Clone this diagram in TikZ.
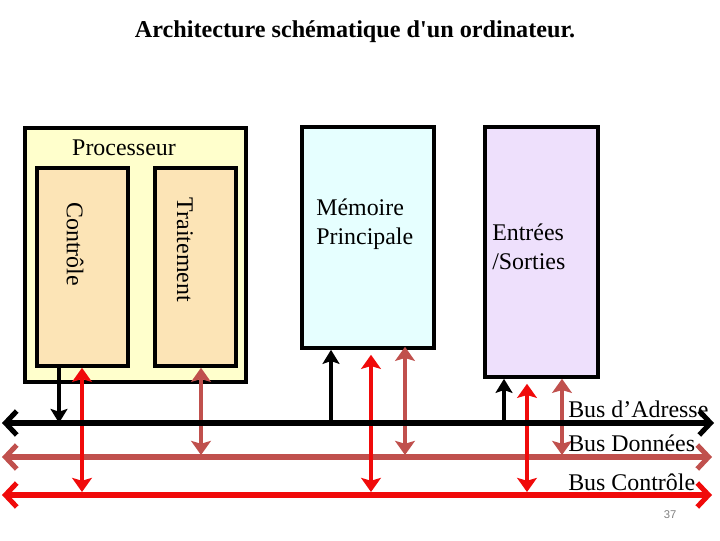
\documentclass[tikz,border=0pt]{standalone}
\usepackage{fontspec}
\setmainfont{Liberation Serif}
\newfontfamily\pagefont{Liberation Sans}
\usepackage{xcolor}
\usetikzlibrary{arrows.meta, positioning, calc}

\definecolor{procfill}{HTML}{FFFFCC}
\definecolor{unitfill}{HTML}{FCE4B6}
\definecolor{memfill}{HTML}{E6FFFF}
\definecolor{iofill}{HTML}{EEE0FC}
\definecolor{busbrown}{HTML}{C0504D}
\definecolor{busred}{HTML}{F00A0A}

\tikzset{
  box/.style={draw, line width=2.5pt, inner sep=0pt},
  lbl/.style={font=\fontsize{17}{20.5}\selectfont, align=left, inner sep=0pt},
  bus/.style={line width=3.6pt, {Straight Barb[length=8pt,width=17pt]}-{Straight Barb[length=8pt,width=17pt]}},
  link/.style={line width=2.6pt, -{Stealth[length=10pt,width=12pt,inset=2pt]}},
  dlink/.style={line width=3pt, {Stealth[length=10pt,width=14pt,inset=2pt]}-{Stealth[length=10pt,width=14pt,inset=2pt]}}
}

\begin{document}
\begin{tikzpicture}[x=0.025cm, y=-0.025cm]
      \useasboundingbox (0,0) rectangle (720,540);

      \node[font=\bfseries\fontsize{17.2}{20}\selectfont] (title) at (355,32) {Architecture schématique d\textquotesingle un ordinateur.};

      % units
      \node[box, fill=procfill, minimum width=5.525cm, minimum height=6.35cm] (proc) at (135.5,255) {};
      \node[lbl] (proclbl) at (124,148) {Processeur};
      \node[box, fill=unitfill, minimum width=2.275cm, minimum height=4.95cm] (ctrl) at (82.5,267) {};
      \node[lbl, rotate=-90] (ctrllbl) at (75,244) {Contrôle};
      \node[box, fill=unitfill, minimum width=2.025cm, minimum height=4.95cm] (trait) at (195.5,267) {};
      \node[lbl, rotate=-90] (traitlbl) at (185,250) {Traitement};
      \node[box, fill=memfill, minimum width=3.3cm, minimum height=5.525cm] (mem) at (368,237.5) {};
      \node[lbl, anchor=west] (memlbl) at (316,224) {Mémoire\\Principale};
      \node[box, fill=iofill, minimum width=2.825cm, minimum height=6.25cm] (io) at (541.5,252) {};
      \node[lbl, anchor=west] (iolbl) at (492,247) {Entrées\\/Sorties};

      % bus ends
      \coordinate (abL) at (2,423);
      \coordinate (abR) at (714,423);
      \coordinate (dbL) at (2,457);
      \coordinate (dbR) at (712,457);
      \coordinate (cbL) at (2,495);
      \coordinate (cbR) at (712,495);

      \coordinate (k1) at (59,0);
      \coordinate (r1) at (82,0);
      \coordinate (b1) at (201,0);
      \coordinate (k2) at (331,0);
      \coordinate (r2) at (371,0);
      \coordinate (b2) at (405,0);
      \coordinate (k3) at (504,0);
      \coordinate (r3) at (527,0);
      \coordinate (b3) at (562,0);

      \draw[bus, busbrown] (dbL) -- (dbR);
      \draw[bus, busred] (cbL) -- (cbR);

      \draw[link] (ctrl.south -| k1) -- (abL -| k1);
      \draw[dlink, busred] (ctrl.south -| r1) -- ($(cbL -| r1)+(0,-3)$);
      \draw[dlink, busbrown] (trait.south -| b1) -- ($(dbL -| b1)+(0,-2)$);

      \draw[link] (abL -| k2) -- (mem.south -| k2);
      \draw[dlink, busred] ($(mem.south -| r2)+(0,5)$) -- ($(cbL -| r2)+(0,-3)$);
      \draw[dlink, busbrown] ($(mem.south -| b2)+(0,-3)$) -- ($(dbL -| b2)+(0,-2)$);

      \draw[link] (abL -| k3) -- (io.south -| k3);
      \draw[dlink, busred] ($(io.south -| r3)+(0,5)$) -- ($(cbL -| r3)+(0,-3)$);
      \draw[dlink, busbrown] (io.south -| b3) -- ($(dbL -| b3)+(0,-2)$);

      \draw[bus, black] (abL) -- (abR);

      \node[lbl, anchor=west] (ablbl) at (568,409) {Bus d’Adresse};
      \node[lbl, anchor=west] (dblbl) at (568,443) {Bus Données};
      \node[lbl, anchor=west] (cblbl) at (568,482) {Bus Contrôle};

      \node[font=\pagefont\fontsize{8}{9}\selectfont, text=gray] (page) at (670,515) {37};
\end{tikzpicture}
\end{document}
